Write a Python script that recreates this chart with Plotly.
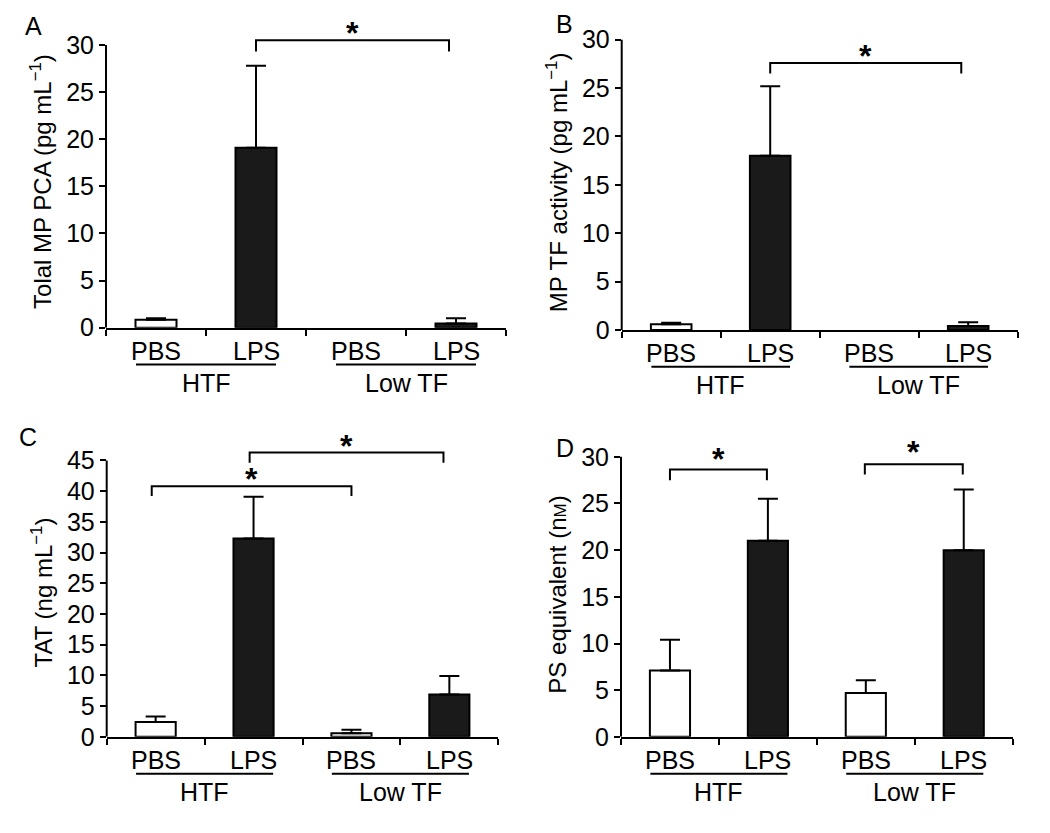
import plotly.graph_objects as go

# ---------------- data ----------------
treatments = ["PBS", "LPS", "PBS", "LPS"]
groups = ["HTF", "Low TF"]

a_means = [0.85, 19.1, None, 0.45]
a_errs = [0.15, 8.7, None, 0.55]

b_means = [0.6, 18.0, None, 0.4]
b_errs = [0.15, 7.2, None, 0.4]

c_means = [2.4, 32.3, 0.6, 6.9]
c_errs = [0.9, 6.8, 0.55, 3.0]

d_means = [7.1, 21.0, 4.7, 20.0]
d_errs = [3.3, 4.5, 1.35, 6.5]

# significance brackets: (left bar, right bar, top y, leg drop)
a_brackets = [(1.0, 2.93, 30.5, 1.2)]
b_brackets = [(1.0, 2.93, 27.6, 1.1)]
c_brackets = [(-0.04, 2.0, 40.8, 1.6), (0.96, 2.94, 46.3, 1.7)]
d_brackets = [(0.0, 0.99, 28.65, 1.15), (1.99, 2.99, 29.2, 1.1)]

W, H = 1050, 833
FONT = "Liberation Sans, Arial, Helvetica, sans-serif"
BLACK = "#000000"
BAR_DARK = "#1a1a1a"
FS = 25      # tick and category labels
FS_T = 24    # axis titles

# vertical correction for the page-to-picture mapping (picture y = 7.5 + 0.975 * page y)
VK, VOFF = 0.975, 7.5

def page_y(ref_y):
    return (ref_y - VOFF) / VK

def vpx(d):
    return d / VK

def px_x(a, b):
    return [a / W, b / W]

def px_y(bottom_ref, top_ref):
    return [1 - page_y(bottom_ref) / H, 1 - page_y(top_ref) / H]

panels = [
    dict(letter="A", means=a_means, errs=a_errs, brackets=a_brackets,
         title="Tolal MP PCA (pg mL<sup>−1</sup>)", top=30, step=5, yr=31,
         xdom=px_x(106, 506), y0px=327, ppu=9.45, star_off=[11],
         letter_pos=(23, 9)),
    dict(letter="B", means=b_means, errs=b_errs, brackets=b_brackets,
         title="MP TF activity (pg mL<sup>−1</sup>)", top=30, step=5, yr=30.5,
         xdom=px_x(621.7, 1017.7), y0px=329.3, ppu=9.7, star_off=[11],
         letter_pos=(554, 6)),
    dict(letter="C", means=c_means, errs=c_errs, brackets=c_brackets,
         title="TAT (ng mL<sup>−1</sup>)", top=45, step=5, yr=47,
         xdom=px_x(106.7, 498.3), y0px=737.3, ppu=6.16, star_off=[10.7, 10.6],
         letter_pos=(17, 421)),
    dict(letter="D", means=d_means, errs=d_errs, brackets=d_brackets,
         title="PS equivalent (n<span style='font-size:17px'>M</span>)", top=30, step=5, yr=30.5,
         xdom=px_x(621, 1012.7), y0px=737.3, ppu=9.36, star_off=[14, 16],
         letter_pos=(554, 432)),
]

fig = go.Figure()
layout = dict(
    width=W, height=H,
    margin=dict(l=0, r=0, t=0, b=0),
    paper_bgcolor="white", plot_bgcolor="white",
    showlegend=False,
    font=dict(family=FONT, size=FS, color=BLACK),
)
shapes = []
annotations = []

for i, p in enumerate(panels):
    n = i + 1
    s = "" if n == 1 else str(n)
    xa, ya = "x" + s, "y" + s
    colors = ["white" if t == "PBS" else BAR_DARK for t in treatments]
    fig.add_trace(go.Bar(
        x=[0, 1, 2, 3], y=p["means"], width=0.41,
        marker=dict(color=colors, line=dict(color=BLACK, width=2)),
        error_y=dict(type="data", symmetric=False, array=p["errs"],
                     arrayminus=[0] * 4, color=BLACK, thickness=2, width=10),
        xaxis=xa, yaxis=ya, hoverinfo="skip",
    ))
    top_ref = p["y0px"] - p["yr"] * p["ppu"]
    layout["xaxis" + s] = dict(
        domain=p["xdom"], anchor=ya, range=[-0.5, 3.5],
        tickvals=[-0.5, 0.5, 1.5, 2.5, 3.5], showticklabels=False,
        ticks="outside", ticklen=6, tickwidth=2, tickcolor=BLACK,
        showline=True, linewidth=2, linecolor=BLACK,
        showgrid=False, zeroline=False, fixedrange=True,
    )
    layout["yaxis" + s] = dict(
        domain=px_y(p["y0px"], top_ref), anchor=xa, range=[0, p["yr"]],
        tickvals=list(range(0, p["top"] + 1, p["step"])),
        ticks="outside", ticklen=6, tickwidth=2, tickcolor=BLACK,
        tickfont=dict(size=FS, color=BLACK, family=FONT),
        showline=False, showgrid=False, zeroline=False, fixedrange=True,
        title=dict(text=p["title"], standoff=7,
                   font=dict(size=FS_T, color=BLACK, family=FONT)),
    )
    # y axis line up to the top tick
    shapes.append(dict(type="line", xref=xa + " domain", yref=ya,
                       x0=0, x1=0, y0=0, y1=p["top"],
                       line=dict(color=BLACK, width=2)))
    # category labels
    for k, t in enumerate(treatments):
        annotations.append(dict(xref=xa, yref=ya + " domain", x=k, y=0,
                                yanchor="top", xanchor="center", yshift=-vpx(7),
                                text=t, showarrow=False,
                                font=dict(size=FS, color=BLACK, family=FONT)))
    # group underlines and labels
    for g, name in enumerate(groups):
        shapes.append(dict(type="line", xref=xa, yref=ya + " domain",
                           ysizemode="pixel", yanchor=0, y0=-vpx(36), y1=-vpx(36),
                           x0=2 * g - 0.2, x1=2 * g + 1.2,
                           line=dict(color=BLACK, width=2)))
        annotations.append(dict(xref=xa, yref=ya + " domain", x=2 * g + 0.5, y=0,
                                yanchor="top", xanchor="center", yshift=-vpx(38),
                                text=name, showarrow=False,
                                font=dict(size=FS, color=BLACK, family=FONT)))
    # significance brackets and stars
    for (xl, xr, yt, d), off in zip(p["brackets"], p["star_off"]):
        shapes.append(dict(type="path", xref=xa, yref=ya,
                           path=f"M {xl},{yt - d} L {xl},{yt} L {xr},{yt} L {xr},{yt - d}",
                           line=dict(color=BLACK, width=2)))
        annotations.append(dict(xref=xa, yref=ya, x=(xl + xr) / 2, y=yt,
                                yanchor="middle", xanchor="center", yshift=vpx(off) - 4,
                                text="<b>*</b>", showarrow=False,
                                font=dict(size=32, color=BLACK, family=FONT)))
    # panel letter
    lx, ly = p["letter_pos"]
    annotations.append(dict(xref="paper", yref="paper", x=lx / W,
                            y=1 - page_y(ly) / H,
                            xanchor="left", yanchor="top", text=p["letter"],
                            showarrow=False,
                            font=dict(size=FS, color=BLACK, family=FONT)))

layout["shapes"] = shapes
layout["annotations"] = annotations
fig.update_layout(**layout)
fig.write_html(
    "out.html",
    config={"displayModeBar": False},
    post_script=(
        "document.body.style.margin='0';"
        "document.body.style.overflow='hidden';"
        "document.documentElement.style.overflow='hidden';"
    ),
)
